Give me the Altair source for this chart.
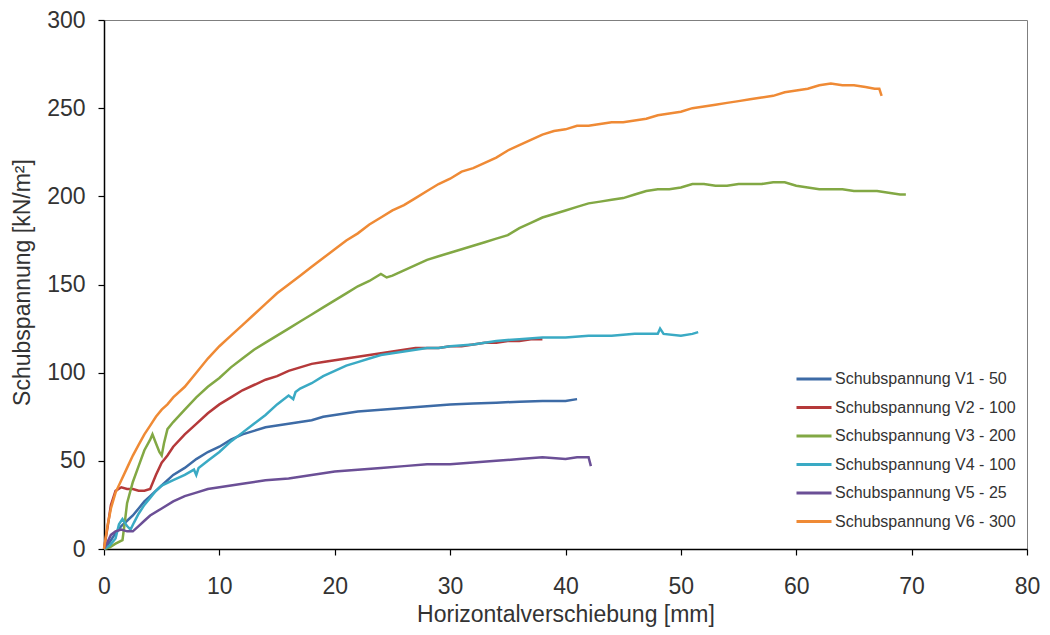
import altair as alt
import pandas as pd

series_names = [
    "Schubspannung V1 - 50",
    "Schubspannung V2 - 100",
    "Schubspannung V3 - 200",
    "Schubspannung V4 - 100",
    "Schubspannung V5 - 25",
    "Schubspannung V6 - 300",
]
series_colors = ["#3d6ba6", "#b5393a", "#82a844", "#3aaac4", "#6b4f96", "#ef8a35"]

v1_x = [0, 0.5, 1, 1.5, 2, 2.5, 3, 3.5, 4, 5, 6, 7, 8, 9, 10, 11, 12, 13, 14, 15, 16, 17, 18, 19, 20,
        22, 24, 26, 28, 30, 32, 34, 36, 38, 40, 41]
v1_y = [0, 4, 9, 13, 16, 19, 23, 27, 30, 36, 42, 46, 51, 55, 58, 62, 65, 67, 69, 70, 71, 72, 73, 75, 76,
        78, 79, 80, 81, 82, 82.5, 83, 83.5, 84, 84, 85]

v2_x = [0, 0.3, 0.6, 1, 1.5, 2, 2.5, 3, 3.5, 4, 4.5, 5, 5.5, 6, 7, 8, 9, 10, 11, 12, 13, 14, 15, 16, 17,
        18, 19, 20, 21, 22, 23, 24, 25, 26, 27, 28, 29, 30, 31, 32, 33, 34, 35, 36, 37, 38]
v2_y = [0, 12, 25, 33, 35, 34, 34, 33, 33, 34, 42, 49, 53, 58, 65, 71, 77, 82, 86, 90, 93, 96, 98, 101, 103,
        105, 106, 107, 108, 109, 110, 111, 112, 113, 114, 114, 114, 115, 115, 116, 117, 117, 118, 118, 119, 119]

v3_x = [0, 0.5, 1, 1.6, 1.8, 2, 2.5, 3, 3.5, 4, 4.2, 4.5, 4.8, 5, 5.2, 5.5, 6, 7, 8, 9, 10, 11, 12, 13, 14,
        15, 16, 17, 18, 19, 20, 21, 22, 23, 24, 24.5, 25, 26, 27, 28, 29, 30, 31, 32, 33, 34, 35, 36, 37,
        38, 39, 40, 41, 42, 43, 44, 45, 46, 47, 48, 49, 50, 51, 52, 53, 54, 55, 56, 57, 58, 59, 60, 61,
        62, 63, 64, 65, 66, 67, 68, 69, 69.5]
v3_y = [0, 1, 3, 5, 15, 26, 38, 47, 56, 62, 65, 60, 55, 53, 60, 68, 72, 79, 86, 92, 97, 103, 108, 113, 117,
        121, 125, 129, 133, 137, 141, 145, 149, 152, 156, 154, 155, 158, 161, 164, 166, 168, 170, 172, 174,
        176, 178, 182, 185, 188, 190, 192, 194, 196, 197, 198, 199, 201, 203, 204, 204, 205, 207, 207, 206,
        206, 207, 207, 207, 208, 208, 206, 205, 204, 204, 204, 203, 203, 203, 202, 201, 201]

v4_x = [0, 0.5, 1, 1.3, 1.6, 2, 2.3, 2.6, 3, 3.5, 4, 4.5, 5, 6, 7, 7.8, 8, 8.2, 9, 10, 11, 12, 13, 14, 15,
        16, 16.4, 16.6, 17, 18, 19, 20, 21, 22, 23, 24, 25, 26, 27, 28, 29, 30, 32, 34, 36, 38, 40, 42, 44,
        46, 47, 48, 48.2, 48.5, 50, 51, 51.5]
v4_y = [0, 2, 6, 14, 17, 13, 11, 15, 20, 25, 29, 33, 36, 39, 42, 45, 42, 46, 50, 55, 61, 66, 71, 76, 82,
        87, 85, 89, 91, 94, 98, 101, 104, 106, 108, 110, 111, 112, 113, 114, 114, 115, 116, 118, 119, 120,
        120, 121, 121, 122, 122, 122, 125, 122, 121, 122, 123]

v5_x = [0, 0.3, 0.6, 1, 1.5, 2, 2.5, 3, 3.5, 4, 5, 6, 7, 8, 9, 10, 12, 14, 16, 18, 20, 22, 24, 26, 28, 30,
        32, 34, 36, 38, 40, 41, 42, 42.2]
v5_y = [0, 4, 8, 10, 11, 10, 10, 13, 16, 19, 23, 27, 30, 32, 34, 35, 37, 39, 40, 42, 44, 45, 46, 47, 48, 48,
        49, 50, 51, 52, 51, 52, 52, 47]

v6_x = [0, 0.3, 0.6, 1, 1.5, 2, 2.5, 3, 3.5, 4, 4.5, 5, 5.5, 6, 7, 8, 9, 10, 11, 12, 13, 14, 15, 16, 17, 18,
        19, 20, 21, 22, 23, 24, 25, 26, 27, 28, 29, 30, 31, 32, 33, 34, 35, 36, 37, 38, 39, 40, 41, 42, 43,
        44, 45, 46, 47, 48, 49, 50, 51, 52, 53, 54, 55, 56, 57, 58, 59, 60, 61, 62, 63, 64, 65, 66, 66.8,
        67.2, 67.4]
v6_y = [0, 13, 23, 32, 39, 46, 53, 59, 65, 70, 75, 79, 82, 86, 92, 100, 108, 115, 121, 127, 133, 139, 145,
        150, 155, 160, 165, 170, 175, 179, 184, 188, 192, 195, 199, 203, 207, 210, 214, 216, 219, 222, 226,
        229, 232, 235, 237, 238, 240, 240, 241, 242, 242, 243, 244, 246, 247, 248, 250, 251, 252, 253, 254,
        255, 256, 257, 259, 260, 261, 263, 264, 263, 263, 262, 261, 261, 257]

xs = [v1_x, v2_x, v3_x, v4_x, v5_x, v6_x]
ys = [v1_y, v2_y, v3_y, v4_y, v5_y, v6_y]

rows = []
for name, sx, sy in zip(series_names, xs, ys):
    for i, (a, b) in enumerate(zip(sx, sy)):
        rows.append({"series": name, "x": a, "y": b, "idx": i})
df = pd.DataFrame(rows)

FONT = "Liberation Sans"
TXT = "#333333"

chart = alt.Chart(df).mark_line(strokeWidth=2.5, interpolate="linear").encode(
    x=alt.X("x:Q",
            scale=alt.Scale(domain=[0, 80], nice=False, zero=False),
            axis=alt.Axis(values=list(range(0, 81, 10)), title="Horizontalverschiebung [mm]",
                          labelFlush=False, tickSize=6, labelPadding=20,
                          titleY=65, titleBaseline="middle")),
    y=alt.Y("y:Q",
            scale=alt.Scale(domain=[0, 300], nice=False),
            axis=alt.Axis(values=list(range(0, 301, 50)), title="Schubspannung [kN/m²]",
                          tickSize=6, labelPadding=13,
                          titleX=-82, titleY=262, titleAngle=270,
                          titleBaseline="middle", titleAlign="center")),
    color=alt.Color("series:N",
                    scale=alt.Scale(domain=series_names, range=series_colors),
                    legend=alt.Legend(title=None, orient="none", legendX=691, legendY=340,
                                      symbolType="stroke", symbolSize=1225, symbolStrokeWidth=3,
                                      rowPadding=1.5, padding=0, labelFontSize=16, labelFont=FONT,
                                      labelColor=TXT, labelOffset=2, labelLimit=0)),
    order="idx:Q",
).properties(
    width=923, height=529,
    autosize=alt.AutoSizeParams(type="none"),
    padding={"left": 96, "top": 12, "right": 15, "bottom": 78},
).configure_view(
    stroke="#7f7f7f", strokeWidth=1
).configure_axis(
    grid=False, domainColor="#000000", domainWidth=1.5, tickColor="#000000", tickWidth=1.2,
    labelFont=FONT, labelFontSize=23, labelColor=TXT,
    titleFont=FONT, titleFontSize=23, titleFontWeight="normal", titleColor=TXT,
)

chart.save("out.html", embed_options={"renderer": "svg", "actions": False})
